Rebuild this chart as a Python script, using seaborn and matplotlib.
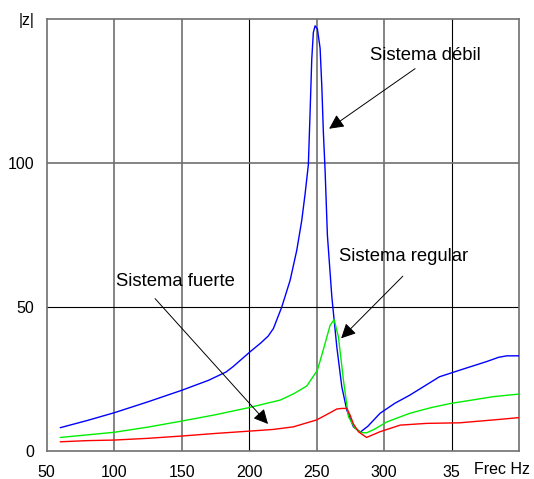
import matplotlib
matplotlib.use('Agg')
import matplotlib.pyplot as plt
import seaborn as sns

# Datos (frecuencia en Hz, |z|)
freq_debil = [60, 80, 100, 125, 150, 170, 183, 188, 200.7, 208.2, 214, 218, 224.2, 230.4, 235.3,
              239, 241.5, 243.9, 245.2, 246.4, 247.6, 248.9, 250.6, 252.6, 253.9, 255, 256.3,
              258, 261.3, 265, 268.7, 272.4, 277.3, 282.5, 288, 297, 308, 319, 330, 341, 356,
              366, 376, 385, 391, 400]
z_debil = [8, 10.5, 13.2, 17, 21, 24.5, 27.4, 29.2, 34.4, 37.3, 39.8, 42.5, 50, 59.3, 69.7,
           80.1, 89.4, 99.5, 118, 136, 145.5, 147.8, 146.7, 140, 126.4, 111, 97.5,
           75, 53.5, 36, 22.2, 14.1, 8.3, 6.5, 8.5, 13, 16.5, 19.3, 22.5, 25.7, 28,
           29.5, 31, 32.5, 33, 33]

freq_regular = [60, 80, 100, 125, 150, 175, 186, 200, 223, 233, 242.7, 250.6, 256.3, 260,
                263, 266.2, 269.9, 273.6, 278.5, 283, 287, 293, 302, 319, 335, 349, 365,
                381, 400]
z_regular = [4.6, 5.5, 6.4, 8.2, 10.3, 12.5, 13.6, 15, 17.6, 19.8, 22.5, 28, 37.3, 43.6,
             45.6, 39.5, 24.5, 11.8, 7.8, 6.3, 6.2, 7.5, 10, 13, 15, 16.4, 17.6,
             18.8, 19.7]

freq_fuerte = [60, 80, 100, 125, 150, 175, 200, 218, 232.8, 250, 260, 265, 268.7, 272.4,
               274.8, 277.3, 281, 287, 297, 312, 331.6, 356, 381, 400]
z_fuerte = [3.1, 3.5, 3.7, 4.3, 5.1, 6, 6.8, 7.4, 8.3, 10.7, 13.2, 14.5, 14.7, 14.7,
            12.4, 9.3, 6.6, 4.6, 6.6, 8.9, 9.5, 9.7, 10.7, 11.5]

x_ticks = [50, 100, 150, 200, 250, 300, 350]
x_labels = ['50', '100', '150', '200', '250', '300', '35']
y_ticks = [0, 50, 100, 150]
y_labels = ['0', '50', '100', '|z|']

sns.set_style('white')
plt.rcParams['font.family'] = ['Liberation Sans', 'DejaVu Sans']
plt.rcParams['text.color'] = 'black'

fig = plt.figure(figsize=(5.34, 4.79), dpi=100)
ax = fig.add_axes([0.0875, 0.0591, 0.8844, 0.9002])

# Rejilla: algunas líneas grises, otras negras
gris = '#707070'
for xv in x_ticks[1:]:
    if xv in (200, 350):
        ax.axvline(xv, color='black', lw=0.8, zorder=1)
    else:
        ax.axvline(xv, color=gris, lw=1.2, zorder=1)
ax.axhline(100, color=gris, lw=1.2, zorder=1)
ax.axhline(50, color='black', lw=0.8, zorder=1)

sns.lineplot(x=freq_debil, y=z_debil, color='#0000ff', lw=1.0, ax=ax, zorder=3)
sns.lineplot(x=freq_regular, y=z_regular, color='#00ee00', lw=1.0, ax=ax, zorder=3)
sns.lineplot(x=freq_fuerte, y=z_fuerte, color='#ff0000', lw=1.0, ax=ax, zorder=3)

ax.set_xlim(50, 400)
ax.set_ylim(0, 150)
ax.set_xticks(x_ticks)
ax.set_xticklabels(x_labels)
ax.set_yticks(y_ticks)
ax.set_yticklabels(y_labels)
ax.tick_params(axis='both', length=0, labelsize=11.5, colors='black')
ax.tick_params(axis='x', pad=10)
ax.tick_params(axis='y', pad=9)
ax.set_xlabel('')
ax.set_ylabel('')
for s in ax.spines.values():
    s.set_color(gris)
    s.set_linewidth(1.2)

ax.annotate('Frec Hz', xy=(400, 0), xycoords=('data', 'axes fraction'),
            xytext=(-17, -11), textcoords='offset pixels',
            ha='center', va='top', fontsize=11.5, color='black')

flecha = dict(arrowstyle='-|>', color='black', lw=0.7, mutation_scale=22,
              shrinkA=0, shrinkB=0)
ax.annotate('', xy=(259.3, 112), xytext=(323, 132.9), arrowprops=flecha, zorder=4)
ax.text(330.4, 137.4, 'Sistema débil', ha='center', va='center', fontsize=13.3, color='black')

ax.annotate('', xy=(268.2, 39.1), xytext=(313.9, 60.7), arrowprops=flecha, zorder=4)
ax.text(314.5, 67.6, 'Sistema regular', ha='center', va='center', fontsize=13.3, color='black')

ax.annotate('', xy=(214, 9.3), xytext=(130.3, 52.9), arrowprops=flecha, zorder=4)
ax.text(145.2, 58.7, 'Sistema fuerte', ha='center', va='center', fontsize=13.3, color='black')

plt.savefig('out.png', dpi=100)
